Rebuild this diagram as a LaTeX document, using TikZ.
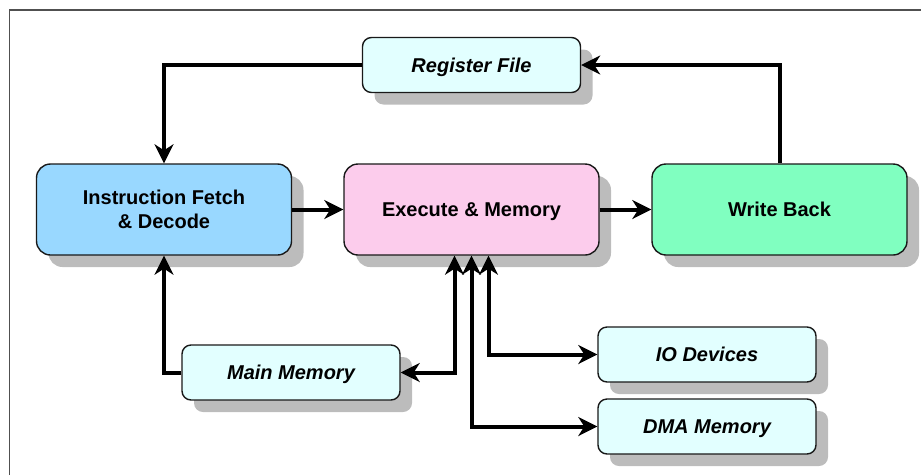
\documentclass[tikz,border=0pt]{standalone}
\usepackage{fontspec}
\setmainfont{Liberation Sans}
\usetikzlibrary{arrows.meta,shadows}

\definecolor{fetchblue}{RGB}{153,216,255}
\definecolor{execpink}{RGB}{252,204,236}
\definecolor{wbgreen}{RGB}{128,255,192}
\definecolor{unitcyan}{RGB}{226,255,255}
\definecolor{shadowgray}{RGB}{188,188,188}
\definecolor{framegray}{RGB}{80,80,80}

\tikzset{
  shadowed/.style={drop shadow={shadow xshift=12pt, shadow yshift=-12pt,
      fill=shadowgray, opacity=1}},
  stage/.style={draw=black!90, line width=1.4pt, rounded corners=14pt,
      minimum width=255pt, minimum height=91pt, shadowed, text depth=0pt,
      font=\fontsize{20}{24}\selectfont\bfseries, align=center, inner sep=0pt},
  unit/.style={draw=black!90, line width=1.4pt, rounded corners=9pt,
      fill=unitcyan, minimum width=218pt, minimum height=55pt, shadowed,
      text depth=0pt,
      font=\fontsize{20}{24}\selectfont\bfseries\itshape, inner sep=0pt},
  flow/.style={line width=4pt, black,
      -{Stealth[length=19pt, width=19pt, inset=6pt]}},
  bus/.style={line width=4pt, black,
      {Stealth[length=19pt, width=19pt, inset=6pt]}-{Stealth[length=19pt, width=19pt, inset=6pt]}}
}

\begin{document}
\begin{tikzpicture}[x=1pt, y=-1pt]
  \useasboundingbox (0,0) rectangle (921,475);

  % outer frame (top and left edges)
  \draw[framegray, line width=1.6pt] (9.5,475) -- (9.5,10) -- (921,10);

  % pipeline stages
  \node[stage, fill=fetchblue] (fetch) at (164,209.5) {Instruction Fetch\\\& Decode};
  \node[stage, fill=execpink]  (exec)  at (471.5,209.5) {Execute \& Memory};
  \node[stage, fill=wbgreen]   (wb)    at (779.5,209.5) {Write Back};

  % supporting units
  \node[unit] (regs) at (471.5,65)  {Register File};
  \node[unit] (mem)  at (291,372.5) {Main Memory};
  \node[unit] (io)   at (707,354.5) {IO Devices};
  \node[unit] (dma)  at (707,426.5) {DMA Memory};

  % main pipeline flow
  \draw[flow] (fetch.east) -- (exec.west);
  \draw[flow] (exec.east) -- (wb.west);
  \draw[flow] (wb.north) |- (regs.east);
  \draw[flow] (regs.west) -| (fetch.north);
  \draw[flow] (mem.west) -| (fetch.south);

  % memory and device buses
  \draw[bus] ([xshift=-17pt]exec.south) |- (mem.east);
  \draw[bus] (exec.south) |- (dma.west);
  \draw[bus] ([xshift=17pt]exec.south) |- (io.west);
\end{tikzpicture}
\end{document}
